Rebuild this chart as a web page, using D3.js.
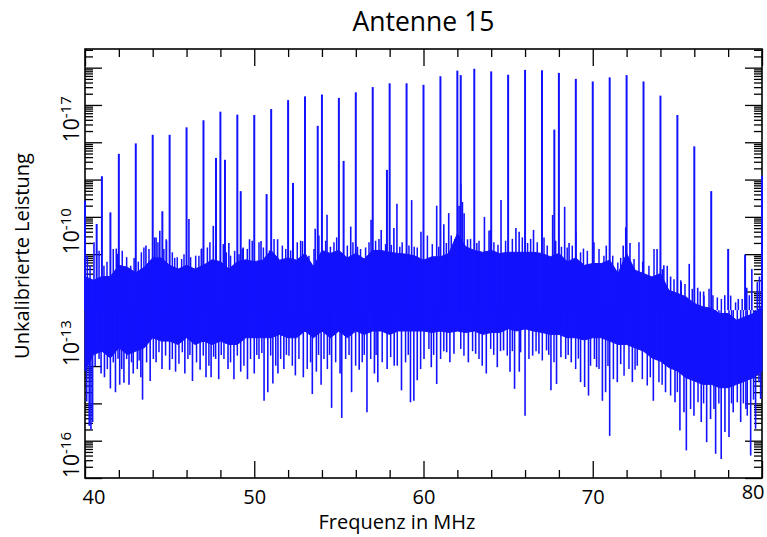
<!DOCTYPE html>
<html><head><meta charset="utf-8">
<script src="https://cdn.jsdelivr.net/npm/d3@7"></script>
<style>
body{margin:0;background:#fff;}
svg text{font-family:"Open Sans","Noto Sans",sans-serif;fill:#000;}
</style></head>
<body><svg id="c" width="767" height="537"></svg>
<script>
// ---- data (exponents are log10 of the uncalibrated power) ----
const title = "Antenne 15";
const xTitle = "Frequenz in MHz";
const yTitle = "Unkalibrierte Leistung";
const xMajorTicks = [40, 50, 60, 70, 80];
const xTickLabels = ["40", "50", "60", "70", "80"];
const yLabelDecades = [-16, -13, -10, -7];
const yLabelExponents = ["-16", "-13", "-10", "-17"];

// solid core of the noise band, every 0.5 MHz from 40 to 80
const bandStart = 40, bandStep = 0.5;
const bandTop = [-10.6,-10.7,-10.6,-10.6,-10.3,-10.35,-10.5,-10.35,-10.1,-10.1,-10.3,-10.4,-10.3,-10.4,-10.3,-10.15,-10.2,-10.4,-10.2,-10.15,-10.2,
 -10.16,-9.9,-10.16,-10.1,-10.16,-9.98,-10.34,-9.9,-9.98,-9.9,-10.1,-9.98,-10.13,-9.9,-9.9,-9.95,-9.98,-10.0,-10.05,-10.16,
 -10.07,-10.07,-9.98,-9.45,-9.8,-9.9,-9.95,-9.9,-9.98,-9.95,-9.95,-9.95,-9.95,-9.98,-10.07,-9.98,-10.2,-10.1,-10.3,-10.25,
 -10.25,-10.16,-10.52,-9.98,-10.43,-10.52,-10.61,-10.52,-10.97,-11.05,-11.14,-11.32,-11.41,-11.45,-11.59,-11.59,-11.77,-11.68,-11.59,-11.41];
const bandBottom = [-13.13,-12.69,-12.6,-12.78,-12.51,-12.69,-12.6,-12.51,-12.24,-12.33,-12.33,-12.42,-12.24,-12.42,-12.33,-12.42,-12.33,-12.42,-12.42,-12.24,-12.24,
 -12.24,-12.24,-12.15,-12.24,-12.24,-12.06,-12.24,-12.06,-12.24,-12.06,-12.24,-12.06,-12.15,-12.06,-12.06,-12.15,-12.06,-12.06,-12.06,-12.06,
 -12.1,-12.06,-12.1,-12.06,-12.1,-12.06,-12.15,-12.1,-12.1,-12.0,-12.06,-12.0,-12.06,-12.1,-12.15,-12.15,-12.24,-12.24,-12.3,-12.24,
 -12.24,-12.33,-12.42,-12.42,-12.51,-12.6,-12.78,-12.87,-13.04,-13.13,-13.31,-13.4,-13.49,-13.49,-13.58,-13.58,-13.49,-13.4,-13.31,-13.13];

// carrier lines: [frequency MHz, log10 peak]
const carriers = [[40.0,-8.57],[40.69,-9.19],[41.0,-7.91],[41.5,-8.88],[42.0,-7.31],[43.0,-7.03],[44.0,-6.80],[44.57,-8.85],[45.0,-6.80],
 [46.0,-6.60],[47.0,-6.41],[47.74,-7.42],[48.0,-6.18],[48.27,-7.47],[49.0,-6.26],[49.2,-8.31],[50.0,-6.27],[50.73,-8.39],[51.0,-6.11],
 [52.0,-5.87],[52.29,-8.09],[53.0,-5.77],[53.75,-6.56],[54.0,-5.72],[55.0,-5.81],[55.28,-7.50],[56.0,-5.66],[57.0,-5.52],[57.84,-7.74],
 [58.0,-5.42],[59.0,-5.42],[60.0,-5.46],[61.0,-5.23],[62.0,-5.08],[62.2,-5.20],[63.0,-5.03],[64.0,-5.10],[65.0,-5.19],[66.0,-5.06],
 [67.0,-5.07],[67.73,-6.66],[68.0,-5.14],[69.0,-5.30],[70.0,-5.37],[71.0,-5.26],[72.0,-5.20],[73.0,-5.37],[74.0,-5.75],[75.0,-6.27],
 [76.0,-7.11],[77.0,-8.31],[78.0,-9.86],[79.0,-10.01],[80.0,-7.90]];

// excursions above the noise band: [MHz, log10]
const peaks = [[40.53,-9.68],[41.85,-9.85],[43.6,-9.77],[44.2,-9.55],[44.42,-9.37],[44.8,-9.6],[46.14,-9.06],[46.9,-9.85],[47.58,-9.24],
 [48.5,-9.7],[49.3,-9.85],[49.72,-9.6],[50.4,-9.65],[51.38,-9.6],[52.85,-9.65],[53.6,-9.32],[54.3,-8.94],[55.7,-9.26],[56.9,-9.08],
 [57.5,-9.35],[58.25,-9.3],[58.43,-8.65],[59.3,-8.55],[59.85,-9.4],[60.78,-8.70],[61.2,-9.2],[61.49,-8.9],[62.1,-8.7],[62.2,-8.12],
 [62.3,-8.6],[62.4,-8.9],[63.6,-9.0],[63.95,-9.35],[64.58,-8.55],[65.46,-9.3],[65.65,-9.4],[66.5,-9.35],[67.63,-8.95],[68.34,-8.73],
 [68.6,-9.7],[69.0,-9.4],[70.07,-9.68],[70.8,-9.77],[71.8,-9.77],[71.95,-9.28],[72.2,-9.7],[73.8,-9.86],[74.2,-10.3],[74.6,-10.6],
 [75.2,-10.7],[75.7,-10.26],[76.2,-10.9],[76.55,-11.0],[77.8,-11.1],[78.6,-11.2],[79.1,-10.9],[79.4,-10.4],[79.85,-10.6]];
const topFringe = [[40.14,-10.04],[40.3,-10.3],[40.83,-9.91],[41.12,-10.31],[41.3,-10.2],[41.67,-9.86],[41.91,-9.99],[42.2,-9.91],[42.46,-10.08],
 [42.7,-10.31],[42.9,-10.1],[43.15,-10.2],[43.33,-9.95],[43.48,-9.82],[43.78,-9.86],[44.11,-9.55],[44.31,-9.68],[44.66,-9.86],[44.82,-9.64],
 [45.16,-9.95],[45.3,-10.1],[45.45,-10.08],[45.71,-10.13],[45.85,-10.0],[46.24,-10.08],[46.54,-10.04],[46.73,-10.04],[46.87,-9.86],[47.23,-9.82],
 [47.38,-9.68],[47.72,-9.77],[48.17,-9.73],[48.35,-9.95],[48.6,-10.04],[48.84,-9.91],[49.1,-10.0],[49.35,-9.82],[49.59,-9.86],[49.88,-9.64],
 [50.28,-9.68],[50.54,-9.82],[50.9,-9.9],[51.17,-9.59],[51.66,-9.77],[51.86,-9.86],[52.15,-9.9],[52.54,-9.68],[52.74,-9.64],[53.23,-10.04],
 [53.53,-9.86],[53.82,-9.5],[54.22,-9.64],[54.5,-9.8],[54.71,-9.68],[54.87,-9.55],[55.5,-9.77],[55.83,-9.68],[56.1,-9.8],[56.28,-9.86],
 [56.58,-9.82],[56.78,-9.68],[57.17,-9.64],[57.37,-9.59],[57.76,-9.73],[58.1,-9.75],[58.6,-9.8],[58.74,-9.68],[59.14,-9.77],[59.45,-9.8],
 [59.63,-9.82],[60.23,-9.5],[60.52,-9.73],[60.9,-9.8],[61.35,-9.7],[61.64,-9.5],[61.85,-9.6],[62.6,-9.6],[62.78,-9.59],[63.15,-9.7],
 [63.28,-9.64],[63.87,-9.37],[64.16,-9.68],[64.4,-9.75],[64.85,-9.64],[65.25,-9.59],[65.84,-9.55],[66.15,-9.7],[66.33,-9.59],[66.72,-9.68],
 [67.12,-9.55],[67.31,-9.77],[67.81,-9.64],[68.15,-9.8],[68.49,-9.82],[68.79,-9.77],[69.28,-9.95],[69.45,-9.85],[69.68,-9.91],[70.37,-9.86],
 [70.66,-10.04],[71.18,-10.04],[71.48,-10.22],[71.65,-10.1],[72.44,-10.13],[72.73,-9.68],[72.95,-10.2],[73.32,-10.31],[73.62,-9.86],[74.11,-10.4],
 [74.4,-10.31],[74.8,-10.67],[75.23,-10.75],[75.45,-10.8],[75.88,-10.93],[76.35,-11.0],[76.57,-11.11],[76.87,-10.93],[77.1,-11.1],[77.36,-11.16],
 [77.6,-11.2],[78.15,-11.11],[78.44,-11.29],[78.83,-11.2],[79.25,-11.1],[79.72,-10.75]];

// deep dips below the noise band: [MHz, log10]
const dips = [[40.1,-13.95],[40.25,-14.6],[40.35,-14.7],[40.45,-14.5],[40.95,-13.2],[41.15,-13.3],[41.5,-13.6],[41.8,-13.7],[42.05,-13.5],
 [42.3,-13.45],[42.6,-13.5],[42.85,-13.2],[43.3,-13.3],[43.4,-13.9],[43.85,-13.4],[44.2,-12.9],[44.55,-13.08],[45.0,-13.1],[45.35,-13.15],
 [45.9,-13.2],[46.35,-13.4],[46.8,-13.1],[47.15,-13.3],[47.45,-13.3],[47.9,-13.35],[48.45,-13.08],[48.8,-13.35],[49.2,-13.15],[49.6,-13.35],
 [50.0,-13.2],[50.58,-13.93],[50.8,-13.7],[51.1,-13.47],[51.4,-13.2],[51.75,-13.08],[52.43,-13.25],[52.9,-13.3],[53.43,-13.75],[53.67,-13.15],
 [53.95,-13.5],[54.57,-14.12],[55.07,-13.2],[55.17,-14.39],[55.75,-13.7],[56.2,-13.1],[56.66,-14.24],[57.1,-13.2],[57.3,-13.43],[57.85,-13.08],
 [58.27,-12.99],[58.7,-13.65],[59.23,-13.97],[59.43,-13.93],[59.63,-13.38],[60.03,-12.81],[60.46,-13.03],[60.78,-13.48],[61.37,-12.63],
 [61.56,-12.9],[61.8,-12.67],[62.65,-12.9],[63.08,-12.67],[63.47,-12.99],[63.71,-13.2],[64.36,-13.03],[64.73,-12.58],[65.11,-13.15],
 [65.38,-13.61],[65.66,-13.15],[66.0,-14.33],[66.45,-12.72],[66.82,-12.67],[67.27,-12.58],[67.53,-13.65],[67.86,-13.48],[68.12,-12.76],
 [68.73,-12.9],[69.28,-13.43],[69.52,-13.56],[69.75,-13.79],[70.1,-12.81],[70.23,-13.03],[70.57,-13.93],[70.76,-13.7],[71.0,-14.87],
 [71.45,-13.43],[71.65,-12.95],[72.34,-13.43],[72.63,-12.99],[73.58,-13.93],[74.3,-13.7],[74.86,-13.97],[75.15,-14.73],[75.39,-14.24],
 [75.53,-15.26],[75.98,-14.33],[76.41,-14.5],[76.73,-15.04],[76.96,-14.42],[77.26,-15.35],[77.59,-15.49],[77.81,-14.77],[78.05,-14.9],
 [78.3,-14.24],[78.74,-14.5],[79.05,-14.15],[79.33,-15.4],[79.62,-14.68],[79.92,-13.88]];
const bottomFringe = [[40.6,-13.0],[40.83,-12.81],[41.32,-13.08],[41.67,-12.9],[41.95,-12.8],[42.17,-13.08],[42.46,-12.81],[42.75,-12.9],
 [43.09,-13.08],[43.2,-12.85],[43.64,-12.9],[44.04,-12.81],[44.37,-12.63],[44.76,-12.72],[45.16,-12.81],[45.55,-12.94],[45.75,-12.63],
 [46.08,-12.81],[46.2,-12.7],[46.59,-12.9],[46.99,-12.72],[47.32,-12.99],[47.6,-12.75],[47.72,-12.81],[48.05,-12.7],[48.21,-12.81],
 [48.6,-12.9],[49.0,-12.72],[49.39,-12.99],[49.78,-12.81],[50.15,-12.7],[50.28,-12.81],[50.45,-12.65],[50.97,-12.72],[51.27,-12.99],
 [51.56,-12.81],[51.9,-12.7],[52.05,-12.72],[52.25,-12.99],[52.64,-12.81],[53.13,-13.08],[53.33,-12.9],[53.8,-12.7],[54.12,-12.81],
 [54.32,-13.08],[54.45,-12.7],[54.81,-12.9],[55.4,-12.81],[55.6,-12.7],[55.99,-12.99],[56.38,-12.9],[56.5,-12.7],[56.88,-12.81],[57.2,-12.7],
 [57.56,-12.9],[58.06,-12.76],[58.45,-12.99],[58.94,-12.9],[59.1,-12.7],[59.83,-13.08],[60.32,-12.54],[60.6,-12.7],[61.01,-12.81],
 [61.2,-12.6],[62.2,-12.54],[62.39,-12.72],[62.9,-12.6],[63.28,-12.81],[63.97,-12.54],[64.15,-12.7],[64.55,-12.6],[64.95,-12.72],
 [65.25,-12.6],[65.74,-12.63],[66.23,-12.81],[66.65,-12.6],[67.02,-12.85],[67.4,-12.7],[67.71,-12.9],[68.4,-12.81],[68.55,-12.7],
 [68.99,-13.08],[69.15,-12.8],[69.87,-12.99],[70.37,-13.08],[70.9,-13.0],[71.22,-13.35],[71.85,-13.26],[72.14,-13.08],[72.5,-13.1],
 [72.93,-13.35],[73.22,-13.52],[73.4,-13.3],[73.91,-13.43],[74.1,-13.5],[74.6,-13.79],[75.0,-13.7],[75.78,-14.15],[76.22,-13.97],
 [76.55,-14.0],[77.16,-14.15],[77.45,-14.0],[78.2,-14.0],[78.54,-13.97],[78.9,-14.0],[79.13,-14.33],[79.5,-13.9],[79.82,-13.43]];

// ---- drawing ----
const svg = d3.select("#c");
const L = 85, R = 762, T = 49, B = 478;
const x = d3.scaleLinear().domain([40, 80]).range([L, R]);
const y = d3.scaleLog().domain([1e-16, Math.pow(10, -4.5)]).range([B, T]);
const blue = "#1212ff";
const p = e => Math.pow(10, e);

// axes (drawn first; the data overlays them as in the reference)
const xMinor = d3.range(42, 80, 2).filter(v => v % 10 !== 0);
const decades = d3.range(-16, -4).map(p);
const yMinor = [];
d3.range(-16, -4).forEach(d => { for (let k = 2; k <= 9; k++) { const v = k * p(d); if (v < p(-4.5)) yMinor.push(v); } });

const axes = svg.append("g").attr("class", "axes");
function clean(g) { g.select(".domain").remove(); g.selectAll("line").attr("stroke", "#000").attr("stroke-width", 1.3); }
axes.append("g").attr("transform", `translate(0,${B})`)
  .call(d3.axisBottom(x).tickValues(xMajorTicks).tickSize(-17).tickPadding(12).tickFormat((d, i) => xTickLabels[i]))
  .call(clean)
  .call(g => g.selectAll("text").attr("font-size", 20).attr("font-family", "Open Sans")
      .attr("text-anchor", d => d === 40 ? "start" : d === 80 ? "end" : "middle")
      .attr("x", d => d === 40 ? -3 : d === 80 ? 2 : 0)
      .attr("dy", d => d === 80 ? "0.45em" : "0.71em"));
axes.append("g").attr("transform", `translate(0,${B})`)
  .call(d3.axisBottom(x).tickValues(xMinor).tickSize(-8).tickFormat("")).call(clean);
axes.append("g").attr("transform", `translate(0,${T})`)
  .call(d3.axisTop(x).tickValues(xMajorTicks).tickSize(-17).tickFormat("")).call(clean);
axes.append("g").attr("transform", `translate(0,${T})`)
  .call(d3.axisTop(x).tickValues(xMinor).tickSize(-8).tickFormat("")).call(clean);
axes.append("g").attr("transform", `translate(${L},0)`)
  .call(d3.axisLeft(y).tickValues(decades).tickSize(-17).tickFormat("")).call(clean);
axes.append("g").attr("transform", `translate(${L},0)`)
  .call(d3.axisLeft(y).tickValues(yMinor).tickSize(-8).tickFormat("")).call(clean);
axes.append("g").attr("transform", `translate(${R},0)`)
  .call(d3.axisRight(y).tickValues(decades).tickSize(-17).tickFormat("")).call(clean);
axes.append("g").attr("transform", `translate(${R},0)`)
  .call(d3.axisRight(y).tickValues(yMinor).tickSize(-8).tickFormat("")).call(clean);
axes.append("rect").attr("x", L).attr("y", T).attr("width", R - L).attr("height", B - T)
  .attr("fill", "none").attr("stroke", "#000").attr("stroke-width", 1.6);

// y tick labels (rotated, with superscript exponent)
yLabelDecades.forEach((d, i) => {
  const t = svg.append("text")
    .attr("transform", `translate(79,${y(p(d)) - 23}) rotate(-90)`)
    .attr("text-anchor", "middle").attr("font-size", 21);
  t.append("tspan").text("10");
  t.append("tspan").attr("font-size", 15).attr("dy", "-0.55em").text(yLabelExponents[i]);
});

// data
const data = svg.append("g");
const bandIdx = d3.range(bandTop.length);
data.append("path")
  .attr("d", d3.area()
    .x(i => x(bandStart + i * bandStep))
    .y0(i => y(p(bandBottom[i])))
    .y1(i => y(p(bandTop[i])))(bandIdx))
  .attr("fill", blue).attr("stroke", blue).attr("stroke-width", 1);

const mid = -11.5;
function spikes(cls, arr, w) {
  data.selectAll("line." + cls).data(arr).join("line").attr("class", cls)
    .attr("x1", d => x(d[0])).attr("x2", d => x(d[0]))
    .attr("y1", y(p(mid))).attr("y2", d => y(p(d[1])))
    .attr("stroke", blue).attr("stroke-width", w);
}
spikes("bf", bottomFringe, 1.5);
spikes("tf", topFringe, 1.5);
spikes("dip", dips, 1.6);
spikes("peak", peaks, 1.6);
spikes("car", carriers, 2);

// titles
svg.append("text").attr("x", (L + R) / 2).attr("y", 31).attr("text-anchor", "middle")
  .attr("font-size", 26.5).text(title);
svg.append("text").attr("x", 397).attr("y", 529).attr("text-anchor", "middle")
  .attr("font-size", 20).text(xTitle);
svg.append("text").attr("transform", "translate(29,256) rotate(-90)").attr("text-anchor", "middle")
  .attr("font-size", 20).text(yTitle);
</script></body></html>
